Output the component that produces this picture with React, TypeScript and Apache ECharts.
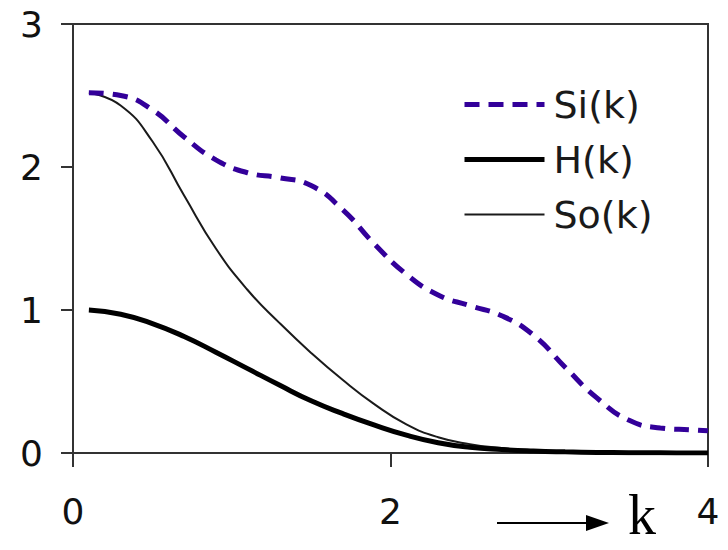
import React, { useEffect, useRef } from "react";
import * as echarts from "echarts";

const kValues = [0.1, 0.3, 0.5, 0.7, 0.9, 1.1, 1.3, 1.5, 1.7, 1.9, 2.1, 2.3, 2.5, 2.7, 2.9, 3.1, 3.3, 3.5, 3.7, 3.9, 4.0];
const siValues = [2.52, 2.5, 2.4, 2.21, 2.05, 1.96, 1.925, 1.87, 1.7, 1.46, 1.25, 1.105, 1.03, 0.96, 0.825, 0.6, 0.385, 0.23, 0.175, 0.162, 0.155];
const hValues = [1.0, 0.97, 0.905, 0.815, 0.705, 0.59, 0.475, 0.365, 0.275, 0.195, 0.125, 0.072, 0.04, 0.024, 0.014, 0.008, 0.004, 0.002, 0.001, 0, 0];
const soValues = [2.52, 2.43, 2.18, 1.8, 1.43, 1.14, 0.91, 0.7, 0.51, 0.34, 0.2, 0.11, 0.062, 0.035, 0.015, 0.005, 0.001, 0, 0, 0, 0];
const seriesNames = ["Si(k)", "H(k)", "So(k)"];
const xTicks = { min: 0, max: 4, interval: 2 };
const yTicks = { min: 0, max: 3, interval: 1 };

const pairs = (vals: number[]) => kValues.map((k, i) => [k, vals[i]]);

export default function App() {
  const ref = useRef<HTMLDivElement>(null);
  useEffect(() => {
    if (!ref.current) return;
    const chart = echarts.init(ref.current, null, { renderer: "svg" });
    const siStyle = { color: "#33009a", width: 5, type: [15, 9] as any, cap: "butt" as const };
    const hStyle = { color: "#000000", width: 5, type: "solid" as const };
    const soStyle = { color: "#1a1a1a", width: 2, type: "solid" as const };
    const axisColor = "#333333";
    const labelFont = { fontFamily: "DejaVu Sans", fontSize: 36, color: "#111111" };
    const hiddenSymbol = { opacity: 0 };
    chart.setOption({
      animation: false,
      backgroundColor: "#ffffff",
      grid: {
        left: 73,
        right: 20,
        top: 24,
        bottom: 97,
        show: true,
        borderColor: axisColor,
        borderWidth: 2,
        backgroundColor: "transparent",
      },
      xAxis: {
        type: "value",
        min: xTicks.min,
        max: xTicks.max,
        interval: xTicks.interval,
        axisLine: { show: true, onZero: false, lineStyle: { color: axisColor, width: 2 } },
        axisTick: { show: true, inside: false, length: 14, lineStyle: { color: axisColor, width: 2 } },
        axisLabel: { ...labelFont, margin: 40 },
        splitLine: { show: false },
      },
      yAxis: {
        type: "value",
        min: yTicks.min,
        max: yTicks.max,
        interval: yTicks.interval,
        axisLine: { show: true, onZero: false, lineStyle: { color: axisColor, width: 2 } },
        axisTick: { show: true, inside: false, length: 12, lineStyle: { color: axisColor, width: 2 } },
        axisLabel: { ...labelFont, margin: 30 },
        splitLine: { show: false },
      },
      legend: {
        orient: "vertical",
        left: 462,
        top: 84,
        padding: 0,
        itemWidth: 80,
        itemHeight: 14,
        itemGap: 14,
        textStyle: { fontFamily: "DejaVu Sans", fontSize: 38, color: "#1a1a1a", lineHeight: 41, padding: [0, 0, 0, 4] },
        data: [
          { name: seriesNames[0], lineStyle: siStyle, itemStyle: hiddenSymbol },
          { name: seriesNames[1], lineStyle: hStyle, itemStyle: hiddenSymbol },
          { name: seriesNames[2], lineStyle: soStyle, itemStyle: hiddenSymbol },
        ],
      },
      series: [
        { name: seriesNames[2], type: "line", smooth: 0.5, symbol: "none", data: pairs(soValues), lineStyle: soStyle, itemStyle: { color: soStyle.color }, z: 2 },
        { name: seriesNames[1], type: "line", smooth: 0.5, symbol: "none", data: pairs(hValues), lineStyle: hStyle, itemStyle: { color: hStyle.color }, z: 3 },
        { name: seriesNames[0], type: "line", smooth: 0.5, symbol: "none", data: pairs(siValues), lineStyle: siStyle, itemStyle: { color: siStyle.color }, z: 4 },
      ],
      graphic: [
        { type: "line", shape: { x1: 497, y1: 523, x2: 588, y2: 523 }, style: { stroke: "#000", lineWidth: 2 } },
        { type: "polygon", shape: { points: [[586, 515], [609, 523], [586, 531]] }, style: { fill: "#000" } },
        { type: "text", x: 628, y: 515, style: { text: "k", font: "56px 'Liberation Serif'", lineHeight: 40, fill: "#000", textVerticalAlign: "middle" } },
      ],
    });
    return () => chart.dispose();
  }, []);
  return <div ref={ref} style={{ position: "fixed", left: 0, top: 0, width: 728, height: 550 }} />;
}
